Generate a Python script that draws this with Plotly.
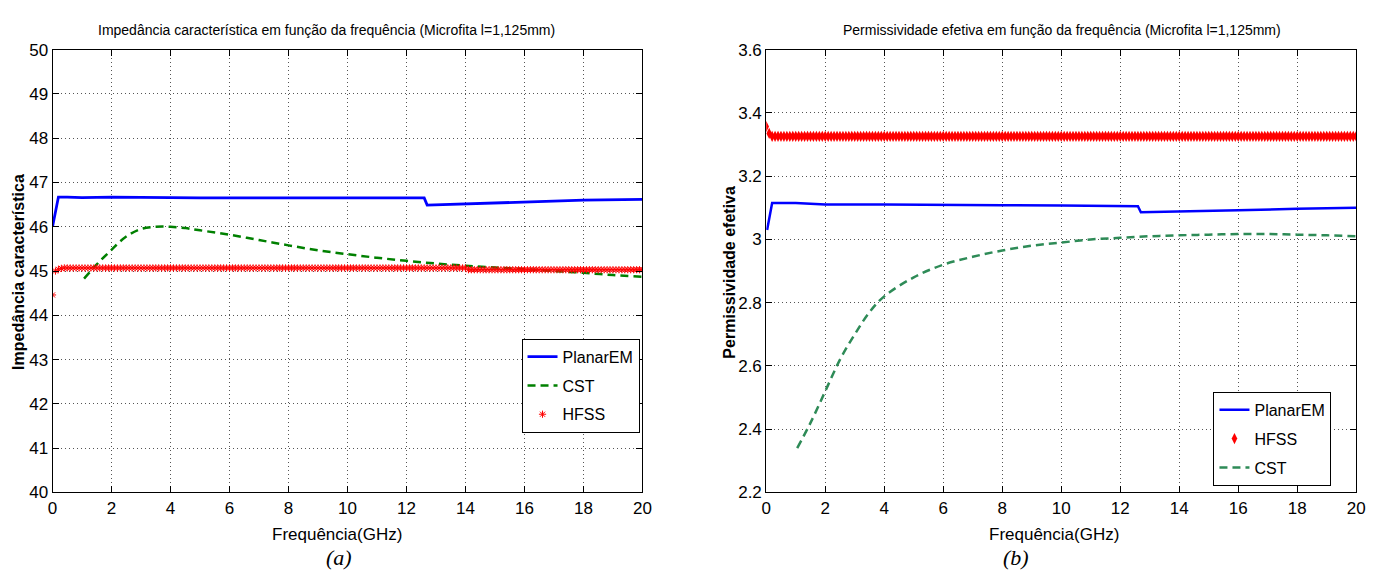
import plotly.graph_objects as go

# ---------------- data ----------------
# (a) characteristic impedance
planar_a_freq = [0.0, 0.2, 0.5, 1.0, 2.0, 3.0, 4.0, 5.0, 6.0, 8.0, 10.0, 12.0, 12.6, 12.7, 14.0, 16.0, 18.0, 20.0]
planar_a_val = [46.0, 46.67, 46.67, 46.66, 46.67, 46.66, 46.66, 46.65, 46.65, 46.65, 46.65, 46.65, 46.65, 46.49, 46.52, 46.56, 46.60, 46.62]

cst_a_freq = [1.07, 1.5, 2.0, 2.5, 3.0, 3.5, 4.0, 4.5, 5.0, 6.0, 7.0, 8.0, 9.0, 10.0, 11.0, 12.0, 13.0, 14.0, 15.0, 16.0, 17.0, 18.0, 19.0, 20.0]
cst_a_val = [44.83, 45.15, 45.48, 45.78, 45.95, 46.0, 46.0, 45.97, 45.92, 45.82, 45.70, 45.58, 45.47, 45.38, 45.30, 45.23, 45.17, 45.12, 45.08, 45.04, 45.0, 44.96, 44.91, 44.87]

hfss_freq = [round(0.1 * i, 1) for i in range(201)]
hfss_a_val = [44.46, 45.0, 45.04, 45.06] + [45.07] * 137 + [45.03] * 60

# (b) effective permittivity
planar_b_freq = [0.03, 0.2, 1.0, 2.0, 4.0, 6.0, 8.0, 10.0, 12.0, 12.6, 12.7, 14.0, 16.0, 18.0, 20.0]
planar_b_val = [3.03, 3.115, 3.115, 3.11, 3.11, 3.108, 3.108, 3.107, 3.106, 3.105, 3.086, 3.088, 3.092, 3.097, 3.10]

hfss_b_val = [3.357, 3.335] + [3.326] * 199

cst_b_freq = [1.05, 1.5, 2.0, 2.5, 3.0, 3.5, 4.0, 5.0, 6.0, 7.0, 8.0, 9.0, 10.0, 11.0, 12.0, 13.0, 14.0, 15.0, 16.0, 17.0, 18.0, 19.0, 20.0]
cst_b_val = [2.34, 2.42, 2.52, 2.62, 2.70, 2.77, 2.82, 2.88, 2.92, 2.945, 2.965, 2.98, 2.99, 3.0, 3.005, 3.01, 3.013, 3.015, 3.017, 3.017, 3.015, 3.013, 3.01]

x_ticks = [0, 2, 4, 6, 8, 10, 12, 14, 16, 18, 20]
ya_ticks = [40, 41, 42, 43, 44, 45, 46, 47, 48, 49, 50]
yb_ticks = [2.2, 2.4, 2.6, 2.8, 3.0, 3.2, 3.4, 3.6]
yb_labels = ["2.2", "2.4", "2.6", "2.8", "3", "3.2", "3.4", "3.6"]

title_a = "Impedância característica em função da frequência (Microfita l=1,125mm)"
title_b = "Permissividade efetiva em função da frequência (Microfita l=1,125mm)"
ylab_a = "Impedância característica"
ylab_b = "Permissividade efetiva"
xlab = "Frequência(GHz)"

# ---------------- figure ----------------
W, H = 1386, 575
SANS = "Liberation Sans, Arial, Helvetica, sans-serif"
SERIF = "Liberation Serif, Times New Roman, serif"

fig = go.Figure()

fig.add_trace(go.Scatter(x=planar_a_freq, y=planar_a_val, mode="lines", name="PlanarEM",
                         line=dict(color="#0000ff", width=2.8), xaxis="x", yaxis="y",
                         legend="legend", legendgroup="a1"))
fig.add_trace(go.Scatter(x=cst_a_freq, y=cst_a_val, mode="lines", name="CST",
                         line=dict(color="#008000", width=2.5, dash="8px,5px", shape="spline"),
                         xaxis="x", yaxis="y", legend="legend", legendgroup="a2"))
fig.add_trace(go.Scatter(x=hfss_freq, y=hfss_a_val, mode="markers", name="HFSS",
                         marker=dict(symbol="asterisk-open", size=6, color="#ff0000",
                                     line=dict(color="#ff0000", width=1)),
                         xaxis="x", yaxis="y", legend="legend", legendgroup="a3"))

fig.add_trace(go.Scatter(x=planar_b_freq, y=planar_b_val, mode="lines", name="PlanarEM",
                         line=dict(color="#0000ff", width=2.5), xaxis="x2", yaxis="y2",
                         legend="legend2", legendgroup="b1"))
fig.add_trace(go.Scatter(x=hfss_freq, y=hfss_b_val, mode="markers", name="HFSS",
                         marker=dict(symbol="diamond-tall", size=8, color="#ff0000",
                                     line=dict(width=0)),
                         xaxis="x2", yaxis="y2", legend="legend2", legendgroup="b2"))
fig.add_trace(go.Scatter(x=cst_b_freq, y=cst_b_val, mode="lines", name="CST",
                         line=dict(color="#2e8b57", width=2.5, dash="8px,5px", shape="spline"),
                         xaxis="x2", yaxis="y2", legend="legend2", legendgroup="b3"))

ax_left = (48 / W, 644 / W)
ax_right = (769 / W, 1365 / W)
top_px, bot_px = 42, 500
ydom = (1 - bot_px / H, 1 - top_px / H)

common_axis = dict(
    showline=True, linecolor="black", linewidth=1, mirror="ticks",
    ticks="inside", ticklen=6, tickcolor="black",
    showgrid=True, gridcolor="#555555", gridwidth=1, griddash="1px,3px",
    zeroline=False,
    tickfont=dict(family=SANS, size=17, color="black"),
)

legend_common = dict(
    xanchor="right", yanchor="top",
    bgcolor="white", bordercolor="black", borderwidth=1,
    font=dict(family=SANS, size=16, color="black"),
    traceorder="grouped", itemwidth=30, tracegroupgap=5,
)

fig.update_layout(
    width=W, height=H,
    margin=dict(l=0, r=0, t=0, b=0),
    paper_bgcolor="white", plot_bgcolor="white",
    showlegend=True,
    xaxis=dict(domain=ax_left, range=[0, 20], tickvals=x_ticks, anchor="y", **common_axis),
    yaxis=dict(domain=ydom, range=[40, 50], tickvals=ya_ticks, anchor="x", **common_axis),
    xaxis2=dict(domain=ax_right, range=[0, 20], tickvals=x_ticks, anchor="y2", **common_axis),
    yaxis2=dict(domain=ydom, range=[2.2, 3.6], tickvals=yb_ticks, ticktext=yb_labels, anchor="x2", **common_axis),
    legend=dict(x=641 / W, y=1 - 341 / H, **legend_common),
    legend2=dict(x=1340 / W, y=1 - 396 / H, **legend_common),
)

annotations = [
    dict(text=title_a, x=325, y=22, font=dict(family=SANS, size=14, color="black")),
    dict(text=title_b, x=1068, y=22, font=dict(family=SANS, size=14, color="black")),
    dict(text=xlab, x=335, y=543, font=dict(family=SANS, size=17, color="black")),
    dict(text=xlab, x=1060, y=543, font=dict(family=SANS, size=17, color="black")),
    dict(text="<b>" + ylab_a + "</b>", x=13, y=272, textangle=-90, font=dict(family=SANS, size=16, color="black")),
    dict(text="<b>" + ylab_b + "</b>", x=731, y=272, textangle=-90, font=dict(family=SANS, size=16, color="black")),
    dict(text="<i>(a)</i>", x=337, y=567, font=dict(family=SERIF, size=22, color="black")),
    dict(text="<i>(b)</i>", x=1021, y=567, font=dict(family=SERIF, size=22, color="black")),
]
for a in annotations:
    fig.add_annotation(xref="paper", yref="paper", x=a["x"] / W, y=1 - a["y"] / H,
                       xanchor="center", yanchor="middle", showarrow=False,
                       text=a["text"], textangle=a.get("textangle", 0), font=a["font"])

fig.write_html("out.html")
